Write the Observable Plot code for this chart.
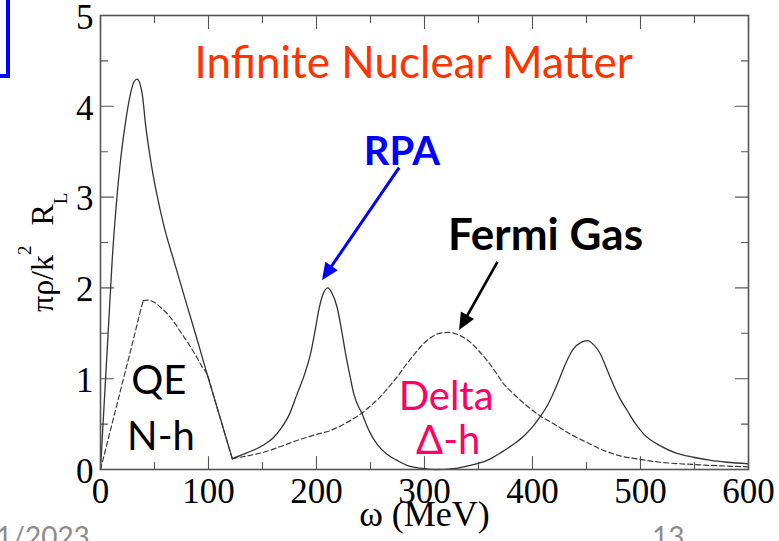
<!DOCTYPE html>
<html>
<head>
<meta charset="utf-8">
<script src="https://cdn.jsdelivr.net/npm/d3@7"></script>
<script src="https://cdn.jsdelivr.net/npm/@observablehq/plot@0.6"></script>
<style>
  body { margin: 0; background: #fff; }
  #slide { position: relative; width: 779px; height: 541px; overflow: hidden; background: #fff; }
  #slide svg { position: absolute; left: 0; top: 0; }
  .corner-box { position: absolute; left: -100px; top: -10px; width: 102px; height: 80px; border: 4px solid #0000ff; }
  .footer { position: absolute; font-family: Lato, "Open Sans", sans-serif; font-size: 28px; color: #8c8c8c; line-height: 1; }
</style>
</head>
<body>
<div id="slide">
  <div class="corner-box"></div>
  <div class="footer" style="left:-4px; top:522px;">1/2023</div>
  <div class="footer" style="left:652px; top:522px;">13</div>
</div>
<script>
// Longitudinal response of infinite nuclear matter, pi*rho/k^2 * R_L, vs energy transfer omega (MeV)
const rpaOmega = [0, 5.4, 9, 10.8, 14.5, 18.5, 22.5, 27.8, 31, 34, 36.5, 38.6, 42, 46.5, 52, 59, 67.9, 80, 90, 98.7,
  105, 113, 122, 136, 151, 160, 167, 175, 182, 189, 194.4, 199, 202, 206, 210.5, 214, 219, 223, 227, 231,
  234.6, 242.3, 249, 256, 265, 274.7, 285, 296, 310, 327, 340, 358, 370, 382.7, 392, 400, 407, 414, 420, 425,
  429, 434, 438, 445, 451, 457, 463, 469, 475, 481, 487.7, 495, 503, 518.5, 533, 549, 565, 580, 600];
const rpaValue = [0, 1.15, 1.92, 2.3, 2.9, 3.4, 3.77, 4.14, 4.27, 4.30, 4.25, 4.14, 3.77, 3.40, 3.04, 2.67, 2.30, 1.81, 1.41, 1.05,
  0.80, 0.48, 0.12, 0.185, 0.27, 0.35, 0.45, 0.61, 0.83, 1.05, 1.27, 1.55, 1.75, 1.93, 2.0, 1.95, 1.79, 1.55, 1.27, 1.03,
  0.83, 0.61, 0.42, 0.28, 0.17, 0.10, 0.04, 0.015, 0.0, 0.01, 0.04, 0.10, 0.18, 0.28, 0.37, 0.47, 0.58, 0.71, 0.86, 1.0,
  1.12, 1.25, 1.33, 1.40, 1.42, 1.37, 1.27, 1.10, 0.93, 0.78, 0.65, 0.51, 0.39, 0.26, 0.18, 0.135, 0.10, 0.08, 0.063];
const rpaKinks = [122];

const fermiOmega = [0, 10, 20, 30, 36, 39.5, 44, 50, 57.1, 63, 69.4, 75, 81.8, 88, 94.1, 98.7, 105, 113, 122, 136,
  151, 166, 182, 198, 213, 227, 240.7, 250, 259, 267, 274.7, 282, 290, 297, 305.6, 314, 322.5, 332, 342.6, 350,
  358, 366, 373.5, 381, 389, 398, 407, 420, 435, 450, 466, 481, 495, 518.5, 549, 575, 600];
const fermiValue = [0, 0.47, 0.94, 1.41, 1.70, 1.86, 1.865, 1.84, 1.77, 1.70, 1.60, 1.50, 1.38, 1.26, 1.13, 1.05, 0.80, 0.48, 0.12, 0.15,
  0.19, 0.25, 0.32, 0.38, 0.43, 0.51, 0.61, 0.70, 0.80, 0.91, 1.02, 1.14, 1.26, 1.36, 1.45, 1.50, 1.51, 1.48, 1.40, 1.31,
  1.20, 1.07, 0.94, 0.85, 0.76, 0.67, 0.59, 0.50, 0.39, 0.30, 0.21, 0.15, 0.12, 0.08, 0.055, 0.04, 0.03];
const fermiKinks = [39.5, 122];

// Axis ticks
const xTicks = [0, 100, 200, 300, 400, 500, 600];
const xMinorTicks = [50, 150, 250, 350, 450, 550];
const yTicks = [0, 1, 2, 3, 4, 5];
const yMinorTicks = [0.5, 1.5, 2.5, 3.5, 4.5];
const xLabel = "ω (MeV)";

// Text notes, anchored in data units (omega, response)
const titleNote = [{text: "Infinite Nuclear Matter", omega: 290, value: 4.47}];
const rpaNote = [{text: "RPA", omega: 279, value: 3.50}];
const fermiNote = [{text: "Fermi Gas", omega: 412, value: 2.57}];
const qeNotes = [
  {text: "QE", omega: 54, value: 0.97},
  {text: "N-h", omega: 56, value: 0.36}
];
const deltaNotes = [
  {text: "Delta", omega: 320, value: 0.80},
  {text: "Δ-h", omega: 322, value: 0.31}
];
const pointers = [
  {x1: 277, y1: 3.32, x2: 205.5, y2: 2.08, color: "#0000ff", width: 3},
  {x1: 368, y1: 2.28, x2: 332.5, y2: 1.53, color: "#000000", width: 2.6}
];

// Split a curve into pieces at its sharp corners so each piece is smoothed on its own
function pieces(omega, value, kinks) {
  const out = [];
  let piece = 0;
  omega.forEach((w, i) => {
    out.push({omega: w, value: value[i], piece});
    if (kinks.includes(w)) {
      piece++;
      out.push({omega: w, value: value[i], piece});
    }
  });
  return out;
}
const rpa = pieces(rpaOmega, rpaValue, rpaKinks);
const fermi = pieces(fermiOmega, fermiValue, fermiKinks);

// Straight tick stroke for inward-pointing ticks
const tickShape = {draw(context, l) { context.moveTo(0, 0); context.lineTo(0, -l); }};
const tickStyle = {shape: tickShape, anchor: "start", stroke: "#555", strokeWidth: 1.1};

function sideTicks(values, channel, frameAnchor, rotate, length) {
  return Plot.vector(values, {[channel]: d => d, frameAnchor, rotate, length, ...tickStyle});
}

// Arrow with a filled head, drawn through the plot's own scales
function pointerMark(p) {
  return (index, scales) => {
    const x1 = scales.x(p.x1), y1 = scales.y(p.y1), x2 = scales.x(p.x2), y2 = scales.y(p.y2);
    const a = Math.atan2(y2 - y1, x2 - x1);
    const L = 17, W = 7.5;
    const bx = x2 - L * Math.cos(a), by = y2 - L * Math.sin(a);
    const g = d3.create("svg:g");
    g.append("line").attr("x1", x1).attr("y1", y1).attr("x2", bx + 2 * Math.cos(a)).attr("y2", by + 2 * Math.sin(a))
      .attr("stroke", p.color).attr("stroke-width", p.width);
    g.append("path")
      .attr("d", `M${x2},${y2}L${bx + W * Math.sin(a)},${by - W * Math.cos(a)}L${bx - W * Math.sin(a)},${by + W * Math.cos(a)}Z`)
      .attr("fill", p.color);
    return g.node();
  };
}

const serif = "'Liberation Serif', 'Times New Roman', serif";
const sans = "Lato, 'Open Sans', sans-serif";

// Rotated y-axis title with superscript and subscript
function yTitle() {
  const g = d3.create("svg:g");
  const t = g.append("text")
    .attr("transform", "translate(53,312) rotate(-90)")
    .attr("text-anchor", "start")
    .attr("font-family", serif)
    .attr("font-size", 32)
    .attr("fill", "#000");
  t.append("tspan").text("πρ/k");
  t.append("tspan").attr("font-size", 19).attr("dy", -22).text("2");
  t.append("tspan").attr("dy", 22).attr("dx", 20).text("R");
  t.append("tspan").attr("font-size", 19).attr("dy", 14).text("L");
  return g.node();
}

const chart = Plot.plot({
  width: 779,
  height: 541,
  marginLeft: 100,
  marginRight: 31,
  marginTop: 15,
  marginBottom: 72,
  style: {fontFamily: serif, background: "transparent", overflow: "visible"},
  x: {domain: [0, 600]},
  y: {domain: [0, 5]},
  marks: [
    Plot.axisX(xTicks, {tickSize: 0, tickPadding: 9, fontSize: 35, label: null, fill: "#000", tickFormat: d => `${d}`}),
    Plot.axisY(yTicks, {tickSize: 0, tickPadding: 7, fontSize: 35, label: null, fill: "#000", dy: 2, tickFormat: d => `${d}`}),
    Plot.text([xLabel], {frameAnchor: "bottom", dy: 56, text: d => d, fontSize: 36, fontFamily: serif, fill: "#000"}),
    yTitle,
    sideTicks(xTicks, "x", "bottom", 0, 13),
    sideTicks(xMinorTicks, "x", "bottom", 0, 7),
    sideTicks(xTicks, "x", "top", 180, 13),
    sideTicks(xMinorTicks, "x", "top", 180, 7),
    sideTicks(yTicks, "y", "left", 90, 13),
    sideTicks(yMinorTicks, "y", "left", 90, 7),
    sideTicks(yTicks, "y", "right", -90, 13),
    sideTicks(yMinorTicks, "y", "right", -90, 7),
    Plot.line(fermi, {x: "omega", y: "value", z: "piece", curve: "monotone-x", stroke: "#3c3c3c", strokeWidth: 1.2, strokeDasharray: "5,3"}),
    Plot.line(rpa, {x: "omega", y: "value", z: "piece", curve: "monotone-x", stroke: "#333", strokeWidth: 1.3}),
    Plot.frame({stroke: "#555", strokeWidth: 1.6}),
    Plot.text(titleNote, {x: "omega", y: "value", text: "text", fontFamily: sans, fontSize: 44, fill: "#ff3300"}),
    Plot.text(rpaNote, {x: "omega", y: "value", text: "text", fontFamily: sans, fontSize: 40, fontWeight: "bold", fill: "#0000ff"}),
    Plot.text(fermiNote, {x: "omega", y: "value", text: "text", fontFamily: sans, fontSize: 44, fontWeight: "bold", fill: "#000"}),
    Plot.text(qeNotes, {x: "omega", y: "value", text: "text", fontFamily: sans, fontSize: 40, fill: "#000"}),
    Plot.text(deltaNotes, {x: "omega", y: "value", text: "text", fontFamily: sans, fontSize: 40, fill: "#ff0066"}),
    ...pointers.map(pointerMark)
  ]
});

document.getElementById("slide").appendChild(chart);
</script>
</body>
</html>
